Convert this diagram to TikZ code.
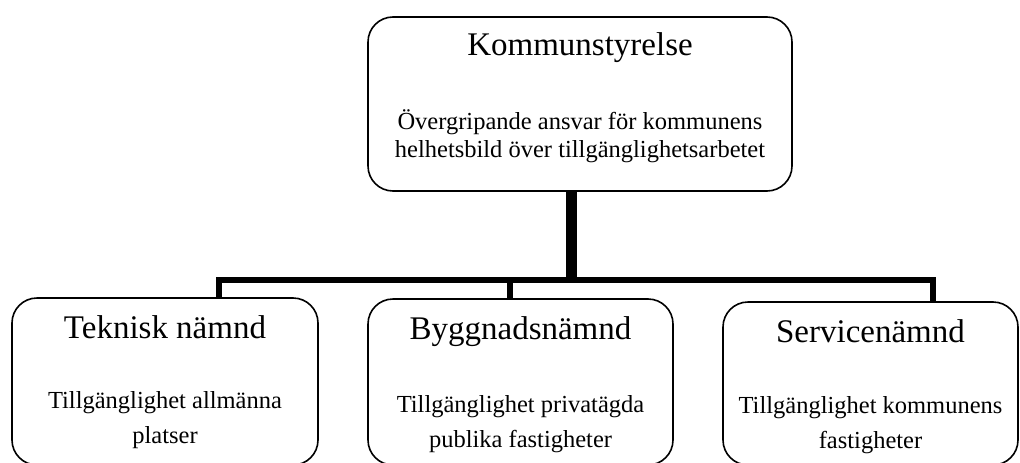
\documentclass[tikz,border=0pt]{standalone}
\usepackage{fontspec}
\setmainfont{Liberation Serif}
\begin{document}
\begin{tikzpicture}[x=1pt,y=-1pt,
  boxstyle/.style={draw=black,line width=1.6pt,rounded corners=25pt,inner sep=0pt},
  titletext/.style={anchor=base,inner sep=0pt,font=\fontsize{33}{33}\selectfont},
  bodytext/.style={anchor=base,inner sep=0pt,font=\fontsize{24.5}{24.5}\selectfont},
  thinbar/.style={line width=5.5pt,line join=miter,line cap=butt},
  thickbar/.style={line width=11pt,line cap=butt}]
\useasboundingbox (0,0) rectangle (1020,463);
% boxes
\node[boxstyle,minimum width=424pt,minimum height=174pt] (top) at (580,104) {};
\node[boxstyle,minimum width=306pt,minimum height=167pt] (left) at (165,381.5) {};
\node[boxstyle,minimum width=305pt,minimum height=166pt] (mid) at (520.5,382) {};
\node[boxstyle,minimum width=295pt,minimum height=163pt] (right) at (870.5,383.5) {};
% texts
\node[titletext] (t0) at (580,55) {Kommunstyrelse};
\node[bodytext] (b0a) at (580,129) {Övergripande ansvar för kommunens};
\node[bodytext] (b0b) at (580,157) {helhetsbild över tillgänglighetsarbetet};
\node[titletext] (t1) at (165,338) {Teknisk nämnd};
\node[bodytext] (b1a) at (165,408) {Tillgänglighet allmänna};
\node[bodytext] (b1b) at (165,443) {platser};
\node[titletext] (t2) at (520.5,339) {Byggnadsnämnd};
\node[bodytext] (b2a) at (520.5,412) {Tillgänglighet privatägda};
\node[bodytext] (b2b) at (520.5,447) {publika fastigheter};
\node[titletext] (t3) at (870.5,342) {Servicenämnd};
\node[bodytext] (b3a) at (870.5,413) {Tillgänglighet kommunens};
\node[bodytext] (b3b) at (870.5,448) {fastigheter};
% connectors
\coordinate (j) at (571.5,280);
\coordinate (hl) at (219,280);
\coordinate (hm) at (510,280);
\coordinate (hr) at (933,280);
\draw[thinbar] (left.north -| hl) -- (hl) -- (hr) -- (right.north -| hr);
\draw[thinbar] (hm) -- (mid.north -| hm);
\draw[thickbar] (top.south -| j) -- ([yshift=2.75pt]j);
\end{tikzpicture}
\end{document}
